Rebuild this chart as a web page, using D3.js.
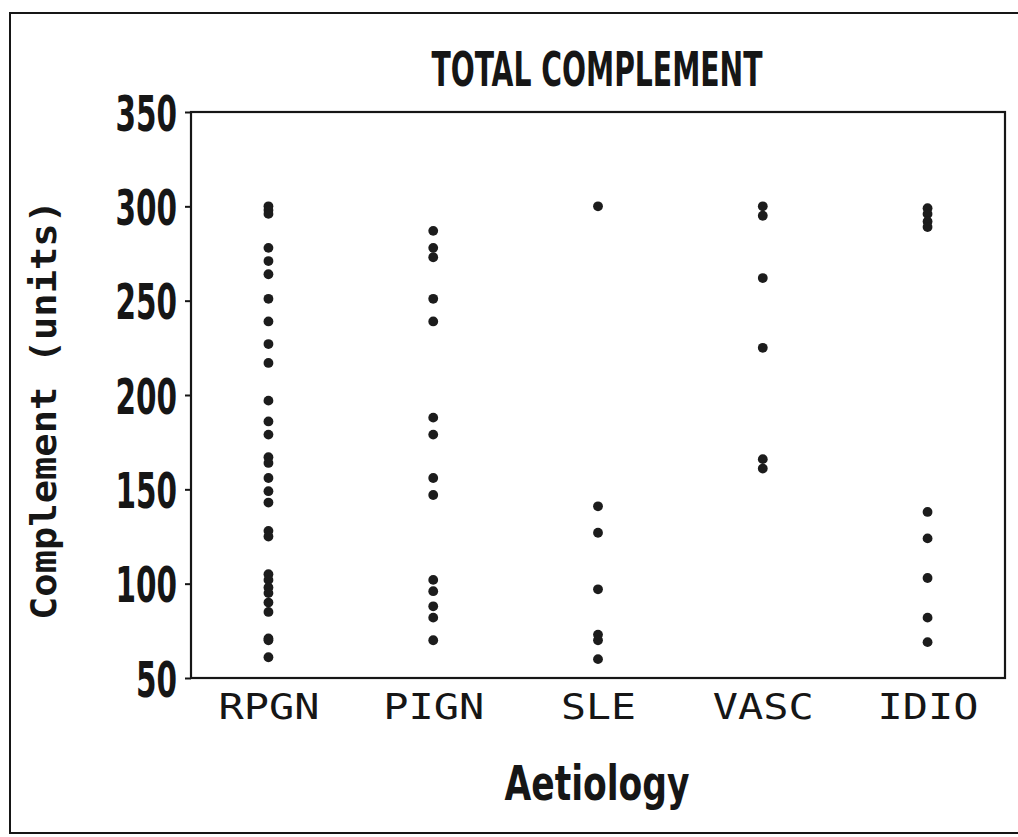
<!DOCTYPE html>
<html>
<head>
<meta charset="utf-8">
<script src="https://cdn.jsdelivr.net/npm/d3@7"></script>
<style>
  html, body { margin: 0; padding: 0; background: #fff; }
  svg { display: block; }
</style>
</head>
<body>
<script>
// ---- data ----
const categories = ["RPGN", "PIGN", "SLE", "VASC", "IDIO"];
const rpgnValues = [300, 298, 296, 278, 271, 264, 251, 239, 227, 217, 197, 186, 179, 167, 164, 156, 149, 143, 128, 125, 105, 102, 98, 95, 90, 85, 71, 70, 61];
const pignValues = [287, 278, 273, 251, 239, 188, 179, 156, 147, 102, 96, 88, 82, 70];
const sleValues  = [300, 141, 127, 97, 73, 70, 60];
const vascValues = [300, 295, 262, 225, 166, 161];
const idioValues = [299, 296, 292, 289, 138, 124, 103, 82, 69];
const yTicks = [50, 100, 150, 200, 250, 300, 350];
const titleText = "TOTAL COMPLEMENT";
const xTitleText = "Aetiology";
const yTitleText = "Complement (units)";

const seriesValues = [rpgnValues, pignValues, sleValues, vascValues, idioValues];
const points = [];
categories.forEach((c, i) => seriesValues[i].forEach(v => points.push({ cat: c, value: v })));

// ---- layout ----
const W = 1018, H = 837;
const plot = { left: 191, right: 1005, top: 112, bottom: 678 };
const ink = "#161616";
const condensed = "'Liberation Sans Narrow', 'DejaVu Sans Condensed', 'Roboto Condensed', sans-serif";

const svg = d3.select("body").append("svg").attr("width", W).attr("height", H);
svg.append("rect").attr("width", W).attr("height", H).attr("fill", "#fff");

// outer frame (right side runs off the page)
svg.append("rect")
  .attr("x", 10).attr("y", 13).attr("width", W + 10).attr("height", 820)
  .attr("fill", "none").attr("stroke", ink).attr("stroke-width", 2);

const x = d3.scalePoint().domain(categories).range([plot.left, plot.right]).padding(0.47);
const y = d3.scaleLinear().domain([50, 350]).range([plot.bottom, plot.top]);

// plot box
svg.append("rect")
  .attr("x", plot.left).attr("y", plot.top)
  .attr("width", plot.right - plot.left).attr("height", plot.bottom - plot.top)
  .attr("fill", "none").attr("stroke", ink).attr("stroke-width", 2.2);

// y axis
const yAxis = svg.append("g")
  .attr("transform", `translate(${plot.left},0)`)
  .call(d3.axisLeft(y).tickValues(yTicks).tickSize(6).tickPadding(8).tickFormat(d3.format("d")));
yAxis.select(".domain").remove();
yAxis.selectAll(".tick line").attr("stroke", ink).attr("stroke-width", 2);
yAxis.selectAll(".tick text")
  .attr("fill", ink)
  .style("font-family", condensed)
  .style("font-weight", "bold")
  .style("font-size", "50px")
  .attr("dy", "0.36em")
  .attr("textLength", d => String(d).length * 20.5)
  .attr("lengthAdjust", "spacingAndGlyphs");

// x axis labels
const xAxis = svg.append("g")
  .attr("transform", `translate(0,${plot.bottom})`)
  .call(d3.axisBottom(x).tickSize(0).tickPadding(8));
xAxis.select(".domain").remove();
xAxis.selectAll(".tick text")
  .attr("fill", ink)
  .attr("dy", "0.95em")
  .style("font-family", "'DejaVu Sans Mono', 'Liberation Mono', monospace")
  .style("font-size", "35px")
  .attr("textLength", d => d.length * 26 - 3)
  .attr("lengthAdjust", "spacingAndGlyphs");

// points
svg.append("g").selectAll("circle")
  .data(points)
  .join("circle")
  .attr("cx", d => x(d.cat))
  .attr("cy", d => y(d.value))
  .attr("r", 4.9)
  .attr("fill", "#1c1c1c");

// title
svg.append("text")
  .attr("x", 597).attr("y", 86)
  .attr("text-anchor", "middle")
  .attr("fill", ink)
  .style("font-family", condensed)
  .style("font-weight", "bold")
  .style("font-size", "48px")
  .attr("textLength", 331)
  .attr("lengthAdjust", "spacingAndGlyphs")
  .text(titleText);

// x title
svg.append("text")
  .attr("x", 597).attr("y", 800)
  .attr("text-anchor", "middle")
  .attr("fill", ink)
  .style("font-family", condensed)
  .style("font-weight", "bold")
  .style("font-size", "48px")
  .attr("textLength", 185)
  .attr("lengthAdjust", "spacingAndGlyphs")
  .text(xTitleText);

// y title
svg.append("text")
  .attr("transform", "translate(56,410) rotate(-90)")
  .attr("text-anchor", "middle")
  .attr("fill", ink)
  .style("font-family", "'DejaVu Sans Mono', 'Liberation Mono', monospace")
  .style("font-weight", "bold")
  .style("font-size", "36px")
  .attr("textLength", 420)
  .attr("lengthAdjust", "spacingAndGlyphs")
  .text(yTitleText);
</script>
</body>
</html>
